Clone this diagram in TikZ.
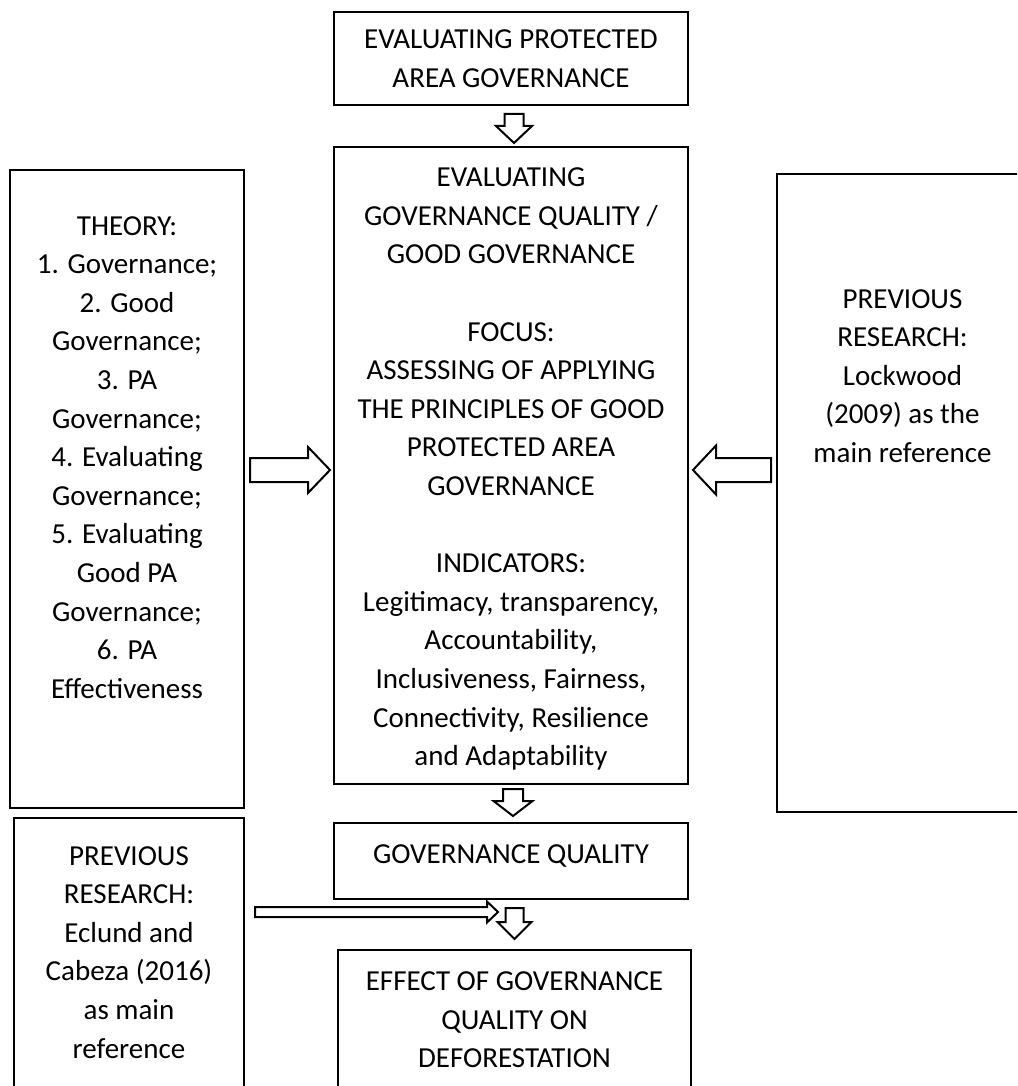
\documentclass[tikz,border=0pt]{standalone}
\usepackage{fontspec}
\setmainfont{Carlito}
\usepackage{tikz}
\usetikzlibrary{calc,positioning}

\newcommand{\downblock}[5]{\draw[hollow] let \p1=(#1), \p2=(#2), \p3=($(\p2)!#5pt!(\p1)$) in
  (\x1-#3pt,\y1) -- (\x1-#3pt,\y3) -- (\x1-#4pt,\y3) -- (\x1,\y2)
  -- (\x1+#4pt,\y3) -- (\x1+#3pt,\y3) -- (\x1+#3pt,\y1) -- cycle;}
\newcommand{\sideblock}[5]{\draw[hollow] let \p1=(#1), \p2=(#2), \p3=($(\p2)!#5pt!(\p1)$) in
  (\x1,\y1-#3pt) -- (\x3,\y1-#3pt) -- (\x3,\y1-#4pt) -- (\x2,\y1)
  -- (\x3,\y1+#4pt) -- (\x3,\y1+#3pt) -- (\x1,\y1+#3pt) -- cycle;}

\begin{document}
\begin{tikzpicture}[x=1pt,y=-1pt,
    box/.style={draw,line width=2pt,inner sep=0},
    txt/.style={align=center,inner sep=0,font=\fontsize{29}{38.6}\selectfont},
    hollow/.style={draw,line width=2pt,fill=white,line join=miter}]
    \useasboundingbox (0,0) rectangle (1017,1086);
    \clip (0,0) rectangle (1017,1086);
    \node[box,minimum width=354,minimum height=93] (padgov) at (511,58.5) {};
    \node[box,minimum width=354,minimum height=637] (goodgov) at (511,465.5) {};
    \node[box,minimum width=234,minimum height=638] (theory) at (127,489) {};
    \node[box,minimum width=263,minimum height=638] (prevres) at (908.5,493) {};
    \node[box,minimum width=354,minimum height=76] (govq) at (511,861) {};
    \node[box,minimum width=353,minimum height=150] (deforest) at (514.5,1025) {};
    \node[box,minimum width=230,minimum height=282] (prevres2) at (129,959) {};
    \node[txt] (padgovtext) at (padgov) {EVALUATING PROTECTED\\AREA GOVERNANCE};
    \node[txt,below=21.7pt of goodgov.north] (goodgovtext) {EVALUATING\\GOVERNANCE QUALITY /\\GOOD GOVERNANCE\\[38.6pt]FOCUS:\\ASSESSING OF APPLYING\\THE PRINCIPLES OF GOOD\\PROTECTED AREA\\GOVERNANCE\\[38.6pt]INDICATORS:\\Legitimacy, transparency,\\Accountability,\\Inclusiveness, Fairness,\\Connectivity, Resilience\\and Adaptability};
    \node[txt,below=47pt of theory.north] (theorytext) {THEORY:\\1. Governance;\\2. Good\\Governance;\\3. PA\\Governance;\\4. Evaluating\\Governance;\\5. Evaluating\\Good PA\\Governance;\\6. PA\\Effectiveness};
    \node[txt,below=116pt of prevres.north,xshift=-6pt] (prevrestext) {PREVIOUS\\RESEARCH:\\Lockwood\\(2009) as the\\main reference};
    \node[txt,below=22pt of govq.north] (govqtext) {GOVERNANCE QUALITY};
    \node[txt,below=22.5pt of deforest.north] (deforesttext) {EFFECT OF GOVERNANCE\\QUALITY ON\\DEFORESTATION};
    \node[txt,below=29pt of prevres2.north] (prevres2text) {PREVIOUS\\RESEARCH:\\Eclund and\\Cabeza (2016)\\as main\\reference};
    \downblock{$(padgov.south)+(3,8)$}{$(goodgov.north)+(3,-3)$}{9.5}{18}{17}
    \downblock{$(goodgov.south)+(2,4)$}{$(govq.north)+(2,-6)$}{10}{19.5}{15}
    \downblock{$(deforest.north |- govq.south)+(0,8)$}{$(deforest.north)+(0,-10)$}{9}{17}{17}
    \sideblock{$(theory.east)+(5,-19)$}{$(goodgov.west)+(-3,4.5)$}{12}{23}{22}
    \sideblock{$(prevres.west)+(-5,-23)$}{$(goodgov.east)+(4,4.5)$}{12}{24.5}{23}
    \sideblock{$(prevres2.east |- govq.south)+(10,12)$}{$(govq.south)+(-13,12)$}{5}{10.5}{11}
\end{tikzpicture}
\end{document}
